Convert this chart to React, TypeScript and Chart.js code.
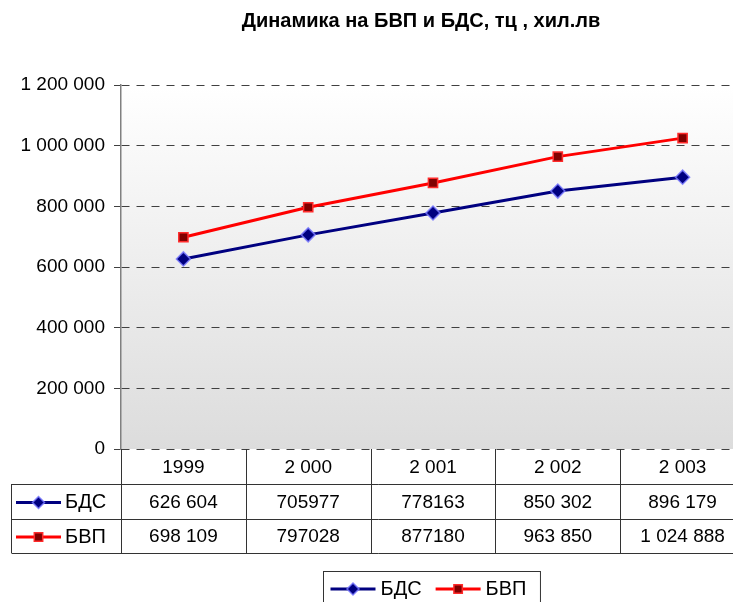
import React, { useEffect, useRef } from 'react';
import { Chart, registerables } from 'chart.js';

Chart.register(...registerables);

const titleText = 'Динамика на БВП и БДС, тц , хил.лв';
const categories = ['1999', '2 000', '2 001', '2 002', '2 003'];
const seriesNames = ['БДС', 'БВП'];
const bdsValues = [626604, 705977, 778163, 850302, 896179];
const bvpValues = [698109, 797028, 877180, 963850, 1024888];
const bdsTableLabels = ['626 604', '705977', '778163', '850 302', '896 179'];
const bvpTableLabels = ['698 109', '797028', '877180', '963 850', '1 024 888'];
const yTicks = [0, 200000, 400000, 600000, 800000, 1000000, 1200000];

const FONT = '"Liberation Sans", Arial, sans-serif';
const BDS_LINE = '#000080';
const BDS_BORDER = 'rgba(120,120,255,0.85)';
const BVP_LINE = '#ff0000';
const BVP_FILL = '#800000';
const BVP_BORDER = '#ff2a2a';

const fmt = (v: number) => String(v).replace(/\B(?=(\d{3})+(?!\d))/g, ' ');

function drawMarker(ctx: CanvasRenderingContext2D, kind: number, x: number, y: number, r: number) {
  ctx.save();
  ctx.lineWidth = 1.5;
  ctx.beginPath();
  if (kind === 0) {
    ctx.moveTo(x, y - r);
    ctx.lineTo(x + r, y);
    ctx.lineTo(x, y + r);
    ctx.lineTo(x - r, y);
    ctx.closePath();
    ctx.fillStyle = BDS_LINE;
    ctx.strokeStyle = BDS_BORDER;
  } else {
    const s = r * 0.7;
    ctx.rect(x - s, y - s, 2 * s, 2 * s);
    ctx.fillStyle = BVP_FILL;
    ctx.strokeStyle = BVP_BORDER;
  }
  ctx.fill();
  ctx.stroke();
  ctx.restore();
}

function drawIcon(ctx: CanvasRenderingContext2D, kind: number, x0: number, y: number) {
  ctx.save();
  ctx.strokeStyle = kind === 0 ? BDS_LINE : BVP_LINE;
  ctx.lineWidth = 3;
  ctx.beginPath();
  ctx.moveTo(x0, y);
  ctx.lineTo(x0 + 45, y);
  ctx.stroke();
  ctx.restore();
  drawMarker(ctx, kind, x0 + 22.5, y, 6);
}

const decorPlugin = {
  id: 'decor',
  beforeDraw(chart: any) {
    const { ctx, chartArea } = chart;
    const { left, top, right, bottom } = chartArea;
    ctx.save();
    ctx.fillStyle = '#ffffff';
    ctx.fillRect(0, 0, chart.width, chart.height);
    const g = ctx.createLinearGradient(0, top, 0, bottom);
    g.addColorStop(0, '#ffffff');
    g.addColorStop(1, '#dcdcdc');
    ctx.fillStyle = g;
    ctx.fillRect(left, top, right - left, bottom - top);
    ctx.restore();
  },
  afterDraw(chart: any) {
    const { ctx, chartArea } = chart;
    const xs = chart.scales.x;
    ctx.save();
    // title
    ctx.fillStyle = '#000';
    ctx.font = `bold 20px ${FONT}`;
    ctx.textAlign = 'center';
    ctx.textBaseline = 'middle';
    ctx.fillText(titleText, 421, 21);

    // data table
    const band = xs.getPixelForValue(1) - xs.getPixelForValue(0);
    const x0 = xs.getPixelForValue(0) - band / 2;
    const rows = [chartArea.bottom, chartArea.bottom + 35, chartArea.bottom + 70, chartArea.bottom + 104];
    const tableLeft = 11.5;
    const tableRight = x0 + band * categories.length;
    ctx.strokeStyle = '#333';
    ctx.lineWidth = 1;
    ctx.beginPath();
    for (let i = 0; i <= categories.length; i++) {
      const px = Math.round(x0 + i * band) + 0.5;
      ctx.moveTo(px, rows[0]);
      ctx.lineTo(px, rows[3]);
    }
    ctx.moveTo(tableLeft, rows[1]);
    ctx.lineTo(tableLeft, rows[3]);
    for (let r = 1; r <= 3; r++) {
      const py = Math.round(rows[r]) + 0.5;
      ctx.moveTo(tableLeft, py);
      ctx.lineTo(tableRight, py);
    }
    ctx.stroke();

    ctx.font = `19px ${FONT}`;
    ctx.fillStyle = '#000';
    ctx.textAlign = 'center';
    ctx.textBaseline = 'middle';
    const tables = [bdsTableLabels, bvpTableLabels];
    categories.forEach((c, i) => {
      const cx = xs.getPixelForValue(i);
      ctx.fillText(c, cx, (rows[0] + rows[1]) / 2 + 1);
      tables.forEach((t, k) => {
        ctx.fillText(t[i], cx, (rows[k + 1] + rows[k + 2]) / 2 + 1);
      });
    });
    ctx.font = `20px ${FONT}`;
    seriesNames.forEach((n, k) => {
      const cy = (rows[k + 1] + rows[k + 2]) / 2 + 1;
      drawIcon(ctx, k, 16, cy);
      ctx.textAlign = 'left';
      ctx.fillStyle = '#000';
      ctx.fillText(n, 65, cy);
    });

    // legend
    const widths = seriesNames.map((n) => ctx.measureText(n).width);
    const itemW = widths.map((w) => 45 + 5 + w);
    const total = 7 + itemW[0] + 14 + itemW[1] + 14;
    const center = (chartArea.left + tableRight) / 2 - 1.5;
    const boxL = Math.round(center - total / 2) + 0.5;
    const boxT = 571.5;
    ctx.strokeStyle = '#333';
    ctx.lineWidth = 1;
    ctx.strokeRect(boxL, boxT, total, 60);
    let cx = boxL + 7;
    const ly = 589;
    seriesNames.forEach((n, k) => {
      drawIcon(ctx, k, cx, ly);
      ctx.textAlign = 'left';
      ctx.fillStyle = '#000';
      ctx.fillText(n, cx + 50, ly);
      cx += itemW[k] + 14;
    });
    ctx.restore();
  },
};

export default function App() {
  const ref = useRef<HTMLCanvasElement | null>(null);
  useEffect(() => {
    if (!ref.current) return;
    const chart = new Chart(ref.current, {
      type: 'line',
      data: {
        labels: categories,
        datasets: [
          {
            label: seriesNames[0],
            data: bdsValues,
            borderColor: BDS_LINE,
            borderWidth: 3,
            tension: 0,
            pointStyle: 'rectRot',
            pointRadius: 7,
            pointBackgroundColor: BDS_LINE,
            pointBorderColor: BDS_BORDER,
            pointBorderWidth: 1.5,
          },
          {
            label: seriesNames[1],
            data: bvpValues,
            borderColor: BVP_LINE,
            borderWidth: 3,
            tension: 0,
            pointStyle: 'rect',
            pointRadius: 6.5,
            pointBackgroundColor: BVP_FILL,
            pointBorderColor: BVP_BORDER,
            pointBorderWidth: 1.5,
          },
        ],
      },
      options: {
        responsive: false,
        animation: false,
        layout: { padding: { left: 0, right: 15, top: 85, bottom: 153 } },
        plugins: {
          legend: { display: false },
          title: { display: false },
          tooltip: { enabled: false },
        },
        scales: {
          x: { display: false, offset: true },
          y: {
            min: 0,
            max: 1200000,
            afterBuildTicks: (s: any) => {
              s.ticks = yTicks.map((v) => ({ value: v }));
            },
            afterFit: (s: any) => {
              s.width = 121;
            },
            ticks: {
              callback: (v: any) => fmt(Number(v)),
              color: '#000',
              font: { family: FONT, size: 19 },
              padding: 9,
            },
            grid: {
              color: '#404040',
              lineWidth: 1,
              drawTicks: true,
              tickLength: 7,
              tickColor: '#404040',
              tickWidth: 1,
              tickBorderDash: [],
            },
            border: { display: true, color: '#808080', width: 1.5, dash: [8, 7] },
          },
        },
      },
      plugins: [decorPlugin],
    } as any);
    return () => chart.destroy();
  }, []);
  return (
    <div style={{ position: 'absolute', left: 0, top: 0, width: 733, height: 602, overflow: 'hidden', background: '#fff' }}>
      <canvas ref={ref} width={760} height={602} style={{ display: 'block' }} />
    </div>
  );
}
